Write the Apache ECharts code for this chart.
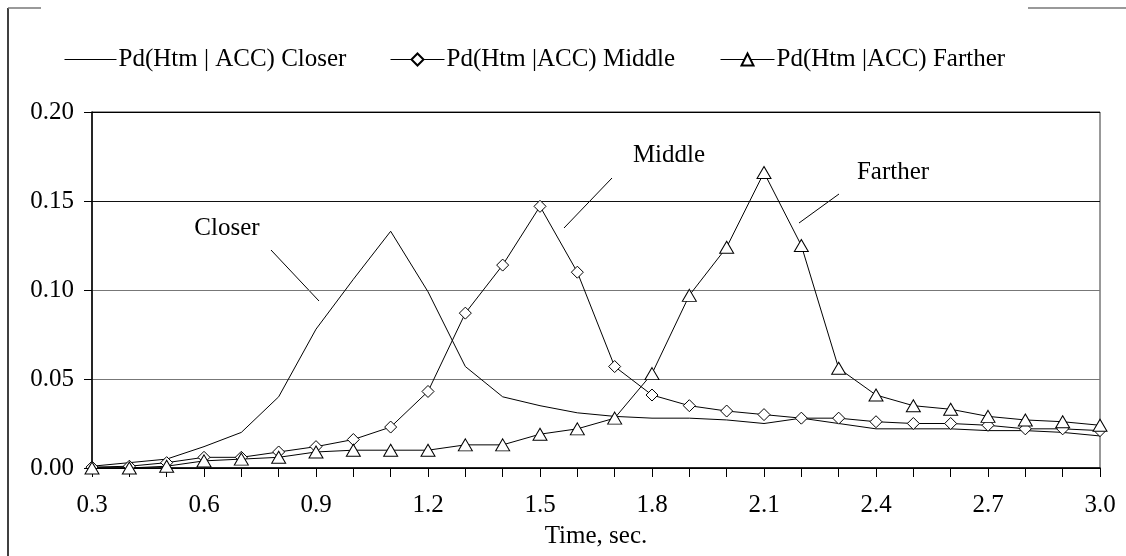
<html>
<meta http-equiv="Content-Type" content="text/html; charset=UTF-8">
<script src="https://cdn.jsdelivr.net/npm/echarts@6/dist/echarts.min.js"></script>
<body style="margin:0">
<div id="chart" style="width:1126px;height:556px;"></div>
<script type="text/javascript">
// time axis (sec.)
var times = [0.3,0.4,0.5,0.6,0.7,0.8,0.9,1.0,1.1,1.2,1.3,1.4,1.5,1.6,1.7,1.8,1.9,2.0,2.1,2.2,2.3,2.4,2.5,2.6,2.7,2.8,2.9,3.0];
var closer = [0.001,0.003,0.005,0.012,0.020,0.040,0.078,0.106,0.133,0.099,0.057,0.040,0.035,0.031,0.029,0.028,0.028,0.027,0.025,0.028,0.025,0.022,0.022,0.022,0.021,0.021,0.020,0.018];
var middle = [0.0005,0.001,0.003,0.006,0.006,0.009,0.012,0.016,0.023,0.043,0.087,0.114,0.147,0.110,0.057,0.041,0.035,0.032,0.030,0.028,0.028,0.026,0.025,0.025,0.024,0.022,0.022,0.021];
var farther = [0,0,0.001,0.004,0.005,0.006,0.009,0.010,0.010,0.010,0.013,0.013,0.019,0.022,0.028,0.053,0.097,0.124,0.166,0.125,0.056,0.041,0.035,0.033,0.029,0.027,0.026,0.024];
var names = ['Pd(Htm | ACC) Closer', 'Pd(Htm |ACC) Middle', 'Pd(Htm |ACC) Farther'];

var font = '"Liberation Serif", "Times New Roman", serif';
var fs = 25;
var diamond = 'path://M0,-1L1,0L0,1L-1,0Z';

function pairs(vals){
  var out = [];
  for(var i=0;i<times.length;i++){
    out.push([times[i], vals[i]]);
  }
  return out;
}

function legendAt(item, left, w){
  return {
    data: [item], left: left, top: 42, itemWidth: w, itemHeight: 15, itemGap: 0,
    textStyle: {fontFamily: font, fontSize: fs, color: '#000', padding: [0,0,0,-3]},
    lineStyle: {width: 1},
    inactiveColor: '#000'
  };
}

var myChart = echarts.init(document.getElementById('chart'));
myChart.setOption({
  backgroundColor: '#fff',
  animation: false,
  textStyle: {fontFamily: font},
  legend: [
    legendAt({name: names[0], itemStyle: {opacity: 0}}, 59, 52),
    legendAt(names[1], 385, 54),
    legendAt(names[2], 715, 54)
  ],
  grid: {left: 92, right: 26, top: 112, bottom: 88, show: true, borderColor: '#333', borderWidth: 1},
  xAxis: {
    type: 'value', min: 0.3, max: 3.0, interval: 0.1,
    name: 'Time, sec.', nameLocation: 'middle', nameGap: 56,
    nameTextStyle: {fontFamily: font, fontSize: fs, color: '#000'},
    axisLine: {show: true, onZero: false, lineStyle: {color: '#000', width: 1.5}},
    axisTick: {show: true, length: 9, lineStyle: {color: '#000'}},
    splitLine: {show: false},
    axisLabel: {
      fontFamily: font, fontSize: fs, color: '#000', margin: 25,
      formatter: function(v){ return Math.round(v*10) % 3 === 0 ? v.toFixed(1) : ''; }
    }
  },
  yAxis: {
    type: 'value', min: 0, max: 0.2, interval: 0.05,
    axisLine: {show: true, lineStyle: {color: '#000', width: 1.5}},
    axisTick: {show: true, length: 8, lineStyle: {color: '#000'}},
    splitLine: {show: true, lineStyle: {color: ['#000','#777','#777','#111','#000'], width: 1.2}},
    axisLabel: {
      fontFamily: font, fontSize: fs, color: '#000', margin: 18,
      formatter: function(v){ return v.toFixed(2); }
    }
  },
  series: [
    {
      name: names[0], type: 'line', data: pairs(closer), symbol: 'none',
      lineStyle: {color: '#000', width: 1}, itemStyle: {color: '#000'}
    },
    {
      name: names[1], type: 'line', data: pairs(middle), symbol: diamond, symbolSize: 12,
      showAllSymbol: true, clip: false,
      lineStyle: {color: '#000', width: 1},
      itemStyle: {color: '#fff', borderColor: '#000', borderWidth: 1}
    },
    {
      name: names[2], type: 'line', data: pairs(farther), symbol: 'triangle', symbolSize: [14, 12],
      showAllSymbol: true, clip: false,
      lineStyle: {color: '#000', width: 1},
      itemStyle: {color: '#fff', borderColor: '#000', borderWidth: 1}
    }
  ],
  graphic: [
    // outer frame pieces
    {type: 'line', shape: {x1: 8, y1: 8, x2: 8, y2: 556}, style: {stroke: '#000', lineWidth: 1.5}},
    {type: 'line', shape: {x1: 8, y1: 8, x2: 41, y2: 8}, style: {stroke: '#777', lineWidth: 1.5}},
    {type: 'line', shape: {x1: 1028, y1: 8, x2: 1126, y2: 8}, style: {stroke: '#777', lineWidth: 1.5}},
    // annotations
    {type: 'text', x: 227, y: 228, style: {text: 'Closer', font: fs + 'px ' + font, fill: '#000', textAlign: 'center', textVerticalAlign: 'middle'}},
    {type: 'line', shape: {x1: 271, y1: 250, x2: 319, y2: 301}, style: {stroke: '#000', lineWidth: 1}},
    {type: 'text', x: 669, y: 155, style: {text: 'Middle', font: fs + 'px ' + font, fill: '#000', textAlign: 'center', textVerticalAlign: 'middle'}},
    {type: 'line', shape: {x1: 612, y1: 178, x2: 564, y2: 228}, style: {stroke: '#000', lineWidth: 1}},
    {type: 'text', x: 893, y: 172, style: {text: 'Farther', font: fs + 'px ' + font, fill: '#000', textAlign: 'center', textVerticalAlign: 'middle'}},
    {type: 'line', shape: {x1: 839, y1: 194, x2: 799, y2: 223}, style: {stroke: '#000', lineWidth: 1}}
  ]
});
</script>
</body>
</html>
